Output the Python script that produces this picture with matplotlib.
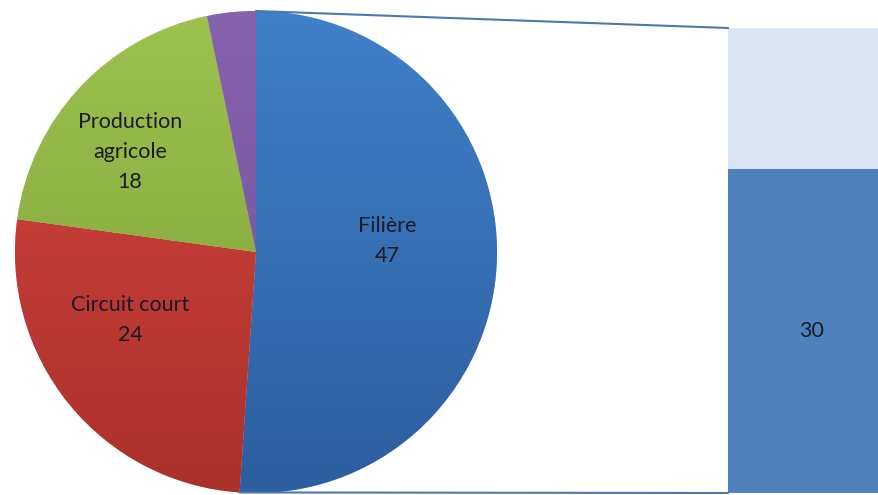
import numpy as np
import matplotlib
matplotlib.use("Agg")
import matplotlib.pyplot as plt
from matplotlib.patches import ConnectionPatch
from matplotlib.colors import LinearSegmentedColormap

# ---- data ----
pie_labels = ["Filière", "Circuit court", "Production\nagricole", ""]
pie_values = [47, 24, 18, 3]
bar_values = [30, 13]          # split of the "Filière" slice (bottom -> top)
bar_labels = ["30", ""]

# ---- style ----
pie_top = ["#4080c8", "#d6453f", "#9cc24e", "#8663ad"]
pie_bot = ["#2d5e9f", "#ab312b", "#7e9e39", "#72519a"]
bar_colors = ["#4f81bd", "#dce6f2"]
text_color = "#1a1a28"
line_color = "#4a78b0"

W, H = 879, 495
fig = plt.figure(figsize=(W / 100, H / 100), dpi=100)
ax = fig.add_axes([0, 0, 1, 1])

cx, cy, R = 256, 243, 241
wedges, _ = ax.pie(pie_values, startangle=90, counterclock=False,
                   center=(cx, cy), radius=R, frame=True,
                   wedgeprops=dict(linewidth=0.4, edgecolor="#e8e8f0"))
ax.set_xlim(0, W)
ax.set_ylim(0, H)
ax.set_aspect("equal")
ax.axis("off")

# vertical gradient inside each wedge
for w, ct, cb in zip(wedges, pie_top, pie_bot):
    w.set_facecolor(cb)
    cmap = LinearSegmentedColormap.from_list("g", [cb, ct])
    grad = np.linspace(0, 1, 256).reshape(-1, 1)
    im = ax.imshow(grad, cmap=cmap, origin="lower", aspect="auto",
                   extent=(cx - R, cx + R, cy - R, cy + R), zorder=w.get_zorder() + 0.1)
    im.set_clip_path(w)

fp = dict(family=["Lato", "DejaVu Sans"], fontsize=15.5, color=text_color,
          ha="center", va="center", linespacing=1.6, zorder=10)
# label positions (pixel frame, y up)
label_pos = [(387, H - 241), (130, H - 320), (130, H - 152), None]
for lab, v, pos in zip(pie_labels, pie_values, label_pos):
    if pos is None or not lab:
        continue
    ax.text(pos[0], pos[1], f"{lab}\n{v}", **fp)

# ---- bar of the split ----
bx0, bx1 = 728, 896
by0, by1 = H - 493, H - 28
ax2 = fig.add_axes([bx0 / W, by0 / H, (bx1 - bx0) / W, (by1 - by0) / H])
bottom = 0
for v, c, lab in zip(bar_values, bar_colors, bar_labels):
    ax2.bar(0, v, bottom=bottom, width=1.0, color=c, linewidth=0)
    if lab:
        ax2.text(0, bottom + v / 2, lab, **{**fp, "zorder": 5})
    bottom += v
ax2.set_xlim(-0.5, 0.5)
ax2.set_ylim(0, sum(bar_values))
ax2.axis("off")

# ---- connector lines ----
start = 90
end = 90 - pie_values[0] / sum(pie_values) * 360
for ang, ybar in [(start, sum(bar_values)), (end, 0)]:
    p = (cx + R * np.cos(np.radians(ang)), cy + R * np.sin(np.radians(ang)))
    con = ConnectionPatch(xyA=p, coordsA=ax.transData, xyB=(-0.5, ybar),
                          coordsB=ax2.transData, color=line_color, lw=1.5, zorder=20)
    fig.add_artist(con)

fig.savefig("out.png", dpi=100)
